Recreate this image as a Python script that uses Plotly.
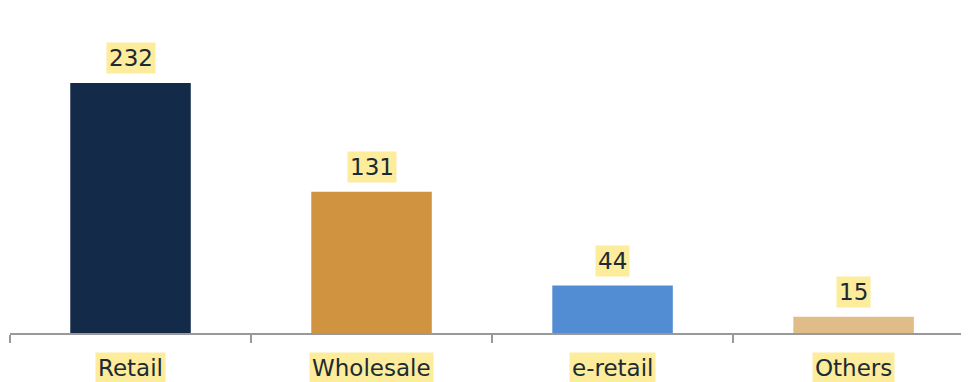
import plotly.graph_objects as go

categories = ["Retail", "Wholesale", "e-retail", "Others"]
values = [232, 131, 44, 15]
colors = ["#132a48", "#d09340", "#528dd4", "#e0bc88"]

FONT = "DejaVu Sans"
LABEL_BG = "#fcec9c"
TEXT_COLOR = "#1b2a33"

fig = go.Figure()
fig.add_trace(go.Bar(
    x=categories, y=values, marker=dict(color=colors, line=dict(width=0)),
    hoverinfo="skip", width=0.5,
))

annotations = []
for c, v in zip(categories, values):
    annotations.append(dict(
        x=c, y=v, xref="x", yref="y", text=str(v), showarrow=False,
        yanchor="bottom", yshift=9, bgcolor=LABEL_BG, borderpad=2,
        font=dict(family=FONT, size=23, color=TEXT_COLOR),
    ))
    annotations.append(dict(
        x=c, y=0, xref="x", yref="paper", text=c, showarrow=False,
        yanchor="middle", yshift=-35, bgcolor=LABEL_BG, borderpad=2,
        font=dict(family=FONT, size=23, color=TEXT_COLOR),
    ))

# page body has an 8px default margin: compensate so the plot sits as in the reference
fig.update_layout(
    width=969, height=382,
    margin=dict(l=2, r=0, t=12, b=57),
    paper_bgcolor="white", plot_bgcolor="white",
    showlegend=False,
    annotations=annotations,
    xaxis=dict(
        range=[-0.5, 3.512], showticklabels=False, tickson="boundaries",
        ticks="outside", ticklen=8, tickcolor="#999999", tickwidth=1.5,
        showline=True, linecolor="#999999", linewidth=2, showgrid=False,
        fixedrange=True,
    ),
    yaxis=dict(range=[0, 290.5], visible=False, showgrid=False, fixedrange=True),
)

fig.write_html("out.html")
